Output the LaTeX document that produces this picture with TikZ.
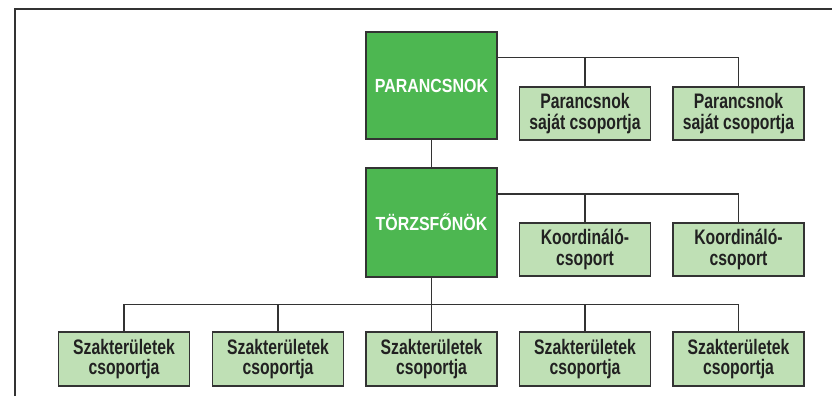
\documentclass[tikz,border=0pt]{standalone}
\usepackage{fontspec}
\setmainfont{Liberation Sans}
\newfontfamily\bigf{Liberation Sans}[FakeStretch=0.84]
\newfontfamily\smallf{Liberation Sans}[FakeStretch=0.75]
\usetikzlibrary{calc}
\definecolor{dkgreen}{HTML}{4DB751}
\definecolor{ltgreen}{HTML}{BFE0B5}
\definecolor{edge}{HTML}{333333}
\tikzset{
  bigbox/.style={draw=edge, line width=1.2pt, fill=dkgreen, minimum width=131pt, text=white,
    font=\bigf\bfseries\fontsize{19}{20}\selectfont, inner sep=0pt, align=center},
  smallbox/.style={draw=edge, line width=1.2pt, fill=ltgreen, minimum width=131pt, minimum height=53pt,
    text=black!87, font=\smallf\bfseries\fontsize{21}{20.5}\selectfont, inner sep=0pt, align=center},
  link/.style={draw=edge, line width=1.2pt},
  frame/.style={draw=edge, line width=2pt}
}
\begin{document}
\begin{tikzpicture}[x=1pt,y=-1pt]
\useasboundingbox (0,0) rectangle (832,396);
\draw[frame] (14.5,396) -- (14.5,9.5) -- (832,9.5);
% main boxes
\node[bigbox, minimum height=107pt] (P) at (431.5,85.5) {PARANCSNOK};
\node[bigbox, minimum height=109pt] (T) at (431.5,222.5) {TÖRZSFŐNÖK};
% top small
\node[smallbox] (ps1) at (585,113.5) {Parancsnok\\saját csoportja};
\node[smallbox] (ps2) at (738.5,113.5) {Parancsnok\\saját csoportja};
% koord
\node[smallbox] (k1) at (585,249.5) {Koordináló-\\csoport};
\node[smallbox] (k2) at (738.5,249.5) {Koordináló-\\csoport};
% bottom
\node[smallbox, minimum height=54pt] (s1) at (124,359) {Szakterületek\\csoportja};
\node[smallbox, minimum height=54pt] (s2) at (278,359) {Szakterületek\\csoportja};
\node[smallbox, minimum height=54pt] (s3) at (431.5,359) {Szakterületek\\csoportja};
\node[smallbox, minimum height=54pt] (s4) at (585,359) {Szakterületek\\csoportja};
\node[smallbox, minimum height=54pt] (s5) at (738.5,359) {Szakterületek\\csoportja};
% junction coordinates
\coordinate (pj) at ($(P.north east)+(0,26.5)$);
\coordinate (tj) at ($(T.north east)+(0,26.5)$);
\coordinate (bj) at ($(T.south)+(0,27)$);
% connectors
\draw[link] (P.south) -- (T.north);
\draw[link] (pj) -| (ps1.north);
\draw[link] (pj) -| (ps2.north);
\draw[link] (tj) -| (k1.north);
\draw[link] (tj) -| (k2.north);
\draw[link] (T.south) -- (s3.north);
\draw[link] (bj) -| (s1.north);
\draw[link] (bj) -| (s2.north);
\draw[link] (bj) -| (s4.north);
\draw[link] (bj) -| (s5.north);
\end{tikzpicture}
\end{document}
